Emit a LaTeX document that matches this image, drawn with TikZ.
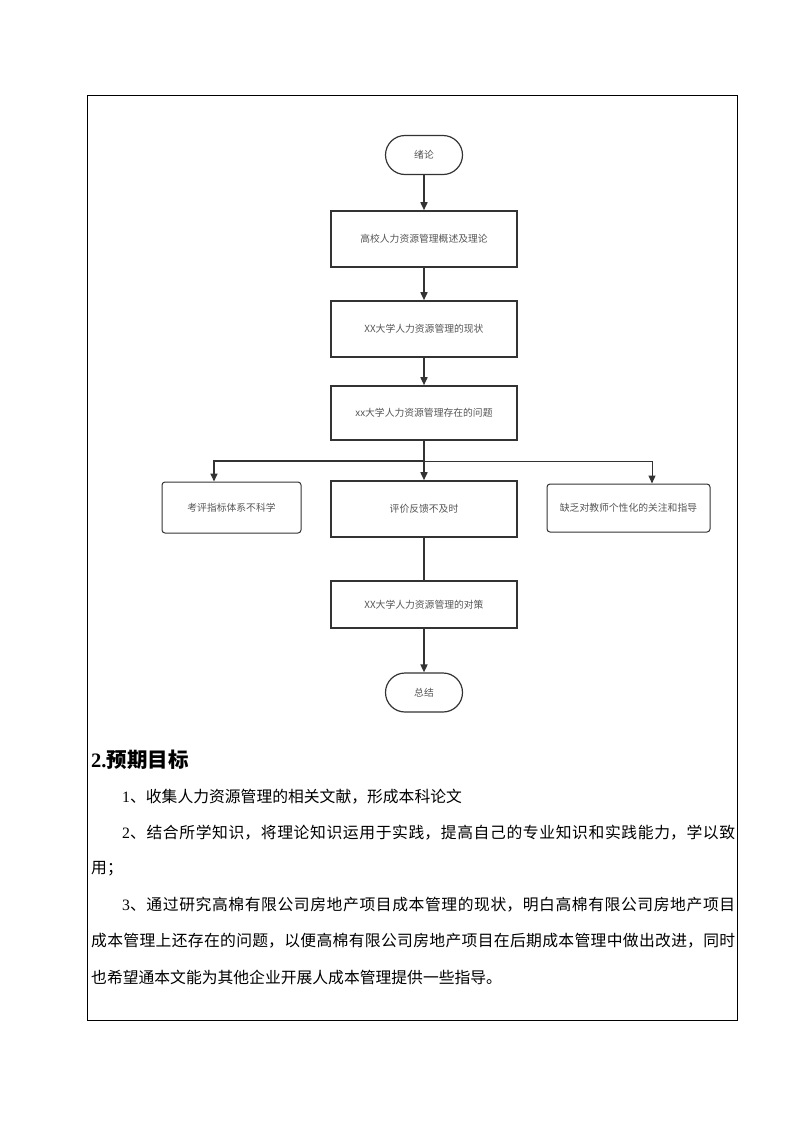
\documentclass[tikz,border=0pt]{standalone}
\usepackage{fontspec}
\setmainfont{Liberation Serif}
\newfontfamily\cjk{Noto Sans CJK SC}
\usetikzlibrary{arrows.meta,shapes.misc}
\definecolor{ln}{HTML}{333333}
\definecolor{tx}{HTML}{555555}
\newcommand\jline[2]{\parbox{#1}{\XeTeXlinebreaklocale "zh"\XeTeXlinebreakskip=0pt plus 3pt\parfillskip=0pt\parindent=0pt\relax #2}}
\begin{document}
\begin{tikzpicture}[x=1pt,y=-1pt,
  lbl/.style={font=\cjk\fontsize{9.8}{11}\selectfont,text=tx},
  box/.style={lbl,draw=ln,line width=1.6pt,minimum width=186pt,inner sep=0pt},
  term/.style={lbl,draw=ln,line width=1.2pt,rounded rectangle,minimum width=77pt,minimum height=39pt,inner sep=0pt},
  side/.style={lbl,draw=ln,line width=1pt,rounded corners=3pt,inner sep=0pt},
  arr/.style={draw=ln,line width=1.6pt,-{Triangle[length=8pt,width=7pt]}},
  thinarr/.style={draw=ln,line width=1pt,-{Triangle[length=8pt,width=7pt]}},
  body/.style={anchor=west,inner sep=0pt,font=\fontsize{15.8}{18}\selectfont,text=black}]
\useasboundingbox (0,0) rectangle (793,1122);
\draw[line width=0.8pt] (87,95) rectangle (737,1020);

\node[term] (start) at (424,155) {绪论};
\node[box,minimum height=56pt] (b1) at (424,239) {高校人力资源管理概述及理论};
\node[box,minimum height=56pt] (b2) at (424,329) {XX大学人力资源管理的现状};
\node[box,minimum height=54pt] (b3) at (424,413) {xx大学人力资源管理存在的问题};
\node[side,minimum width=139pt,minimum height=51pt] (s1) at (231.5,507.5) {考评指标体系不科学};
\node[box,minimum height=56pt] (s2) at (424,509) {评价反馈不及时};
\node[side,minimum width=163pt,minimum height=48pt] (s3) at (628.5,508) {缺乏对教师个性化的关注和指导};
\node[box,minimum height=47pt] (b4) at (424,604.5) {XX大学人力资源管理的对策};
\node[term] (end) at (424,692.5) {总结};

\draw[arr] (start) -- (b1);
\draw[arr] (b1) -- (b2);
\draw[arr] (b2) -- (b3);
\coordinate (j) at (424,461);
\coordinate (jl) at (214,461);
\coordinate (jr) at (652,461);
\draw[draw=ln,line width=1.6pt] (b3.south) -- (j);
\draw[arr] (j) -- (s2);
\draw[arr] (j) -- (jl) -- (jl |- s1.north);
\draw[thinarr] (j) -- (jr) -- (jr |- s3.north);
\draw[draw=ln,line width=1.6pt] (s2) -- (b4);
\draw[arr] (b4) -- (end);

\node[anchor=west,inner sep=0pt,font=\fontsize{20.5}{24}\selectfont\bfseries] (h) at (91,760) {2.{\cjk 预期目标}};
\node[body] (l1) at (122,797) {1{\cjk 、收集人力资源管理的相关文献，形成本科论文}};
\node[body] (l2) at (122,833) {\jline{613pt}{2{\cjk 、结合所学知识，将理论知识运用于实践，提高自己的专业知识和实践能力，学以致}}};
\node[body] (l3) at (91,869) {{\cjk 用；}};
\node[body] (l4) at (122,905) {\jline{613pt}{3{\cjk 、通过研究高棉有限公司房地产项目成本管理的现状，明白高棉有限公司房地产项目}}};
\node[body] (l5) at (91,941) {\jline{644pt}{{\cjk 成本管理上还存在的问题，以便高棉有限公司房地产项目在后期成本管理中做出改进，同时}}};
\node[body] (l6) at (91,977) {{\cjk 也希望通本文能为其他企业开展人成本管理提供一些指导。}};
\end{tikzpicture}
\end{document}
